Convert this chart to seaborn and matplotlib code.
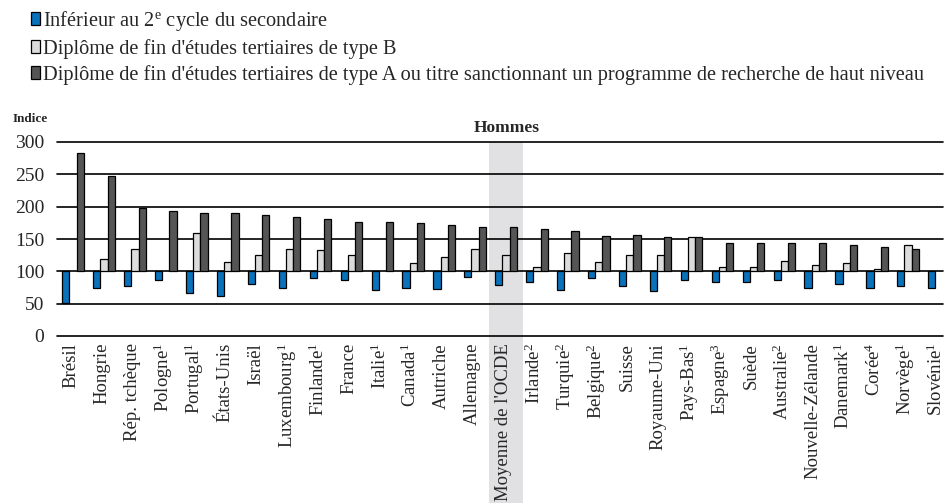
import numpy as np
import pandas as pd
import matplotlib
matplotlib.use("Agg")
import matplotlib.pyplot as plt
from matplotlib.patches import Patch, Rectangle
import matplotlib.transforms as mtransforms
import seaborn as sns

pays = ["Brésil", "Hongrie", "Rép. tchèque", "Pologne$^{1}$", "Portugal$^{1}$",
        "États-Unis", "Israël", "Luxembourg$^{1}$", "Finlande$^{1}$", "France",
        "Italie$^{1}$", "Canada$^{1}$", "Autriche", "Allemagne", "Moyenne de l'OCDE",
        "Irlande$^{2}$", "Turquie$^{2}$", "Belgique$^{2}$", "Suisse", "Royaume-Uni",
        "Pays-Bas$^{1}$", "Espagne$^{3}$", "Suède", "Australie$^{2}$", "Nouvelle-Zélande",
        "Danemark$^{1}$", "Corée$^{4}$", "Norvège$^{1}$", "Slovénie$^{1}$"]

inferieur = [51, 74, 78, 87, 66, 62, 81, 74, 90, 87, 71, 75, 72, 91, 79,
             84, 71, 90, 78, 69, 87, 84, 84, 87, 74, 81, 74, 78, 74]
tertiaire_b = [np.nan, 119, 134, np.nan, 159, 115, 125, 134, 133, 126, np.nan, 113, 122, 134, 125,
               107, 128, 115, 126, 126, 153, 107, 107, 116, 110, 113, 103, 141, np.nan]
tertiaire_a = [283, 248, 198, 193, 190, 190, 187, 184, 181, 177, 177, 174, 171, 168, 168,
               165, 162, 155, 156, 153, 153, 144, 144, 144, 144, 141, 138, 134, np.nan]

niveaux = ["Inférieur au 2$^{\\mathrm{e}}$ cycle du secondaire",
           "Diplôme de fin d'études tertiaires de type B",
           "Diplôme de fin d'études tertiaires de type A ou titre sanctionnant un programme de recherche de haut niveau"]
couleurs = ["#0A72BA", "#DCDCDC", "#555555"]

y_ticks = [0, 50, 100, 150, 200, 250, 300]

rows = []
for i, p in enumerate(pays):
    for niv, vals in zip(niveaux, [inferieur, tertiaire_b, tertiaire_a]):
        v = vals[i]
        if not np.isnan(v):
            rows.append({"pays": p, "niveau": niv, "delta": v - 100})
df = pd.DataFrame(rows)

sns.set_theme(style="white")
serif = ["Liberation Serif", "DejaVu Serif"]
plt.rcParams["font.family"] = serif
plt.rcParams["mathtext.fontset"] = "custom"
plt.rcParams["mathtext.rm"] = "Liberation Serif"
plt.rcParams["mathtext.it"] = "Liberation Serif:italic"
plt.rcParams["mathtext.bf"] = "Liberation Serif:bold"

fig = plt.figure(figsize=(9.45, 5.03), dpi=100)
ax = fig.add_axes([57 / 945, 1 - 336 / 503, (943 - 57) / 945, (336 - 142) / 503])

sns.barplot(data=df, x="pays", y="delta", hue="niveau", order=pays, hue_order=niveaux,
            palette=couleurs, bottom=100, width=0.7, edgecolor="black", linewidth=0.9,
            errorbar=None, legend=False, saturation=1, ax=ax)

ax.set_xlim(-0.52, 28.13)
ax.set_ylim(0, 300)
ax.set_yticks(y_ticks)
ax.set_yticklabels([str(t) for t in y_ticks], fontsize=14)
ax.set_xlabel("")
ax.set_ylabel("")
for s in ax.spines.values():
    s.set_visible(False)
ax.tick_params(axis="both", length=0)
ax.tick_params(axis="y", pad=9)
ax.tick_params(axis="x", pad=5)
ax.set_xticks(range(len(pays)))
ax.set_xticklabels(pays, rotation=90, fontsize=13.5, va="top", ha="center")
shift = mtransforms.ScaledTranslation(-2.5 / 100, 0, fig.dpi_scale_trans)
for lab in ax.get_xticklabels():
    lab.set_transform(lab.get_transform() + shift)
ax.set_axisbelow(True)
ax.yaxis.grid(True, color="black", linewidth=1.2)
ax.xaxis.grid(False)
for gl in ax.yaxis.get_gridlines():
    gl.set_clip_on(False)

# OECD average band
idx = pays.index("Moyenne de l'OCDE")
trans = mtransforms.blended_transform_factory(ax.transData, ax.transAxes)
band = Rectangle((idx - 0.54, -0.9), 1.08, 1.9, transform=trans, color="#E1E1E3",
                 zorder=0.1, clip_on=False, linewidth=0)
ax.add_patch(band)

fig.text(13 / 945, 1 - 119 / 503, "Indice", fontsize=9.5, fontweight="bold", va="center", ha="left")
fig.text(507 / 945, 1 - 128 / 503, "Hommes", fontsize=12.5, fontweight="bold", va="center", ha="center")

handles = [Patch(facecolor=c, edgecolor="black", linewidth=0.9) for c in couleurs]
fig.legend(handles, niveaux, loc="upper left", bbox_to_anchor=(31 / 945, 1 - 9 / 503),
           frameon=False, fontsize=14.7, handlelength=0.45, handleheight=0.6,
           handletextpad=0.15, labelspacing=0.3, borderpad=0, borderaxespad=0)

fig.savefig("out.png", dpi=100)
